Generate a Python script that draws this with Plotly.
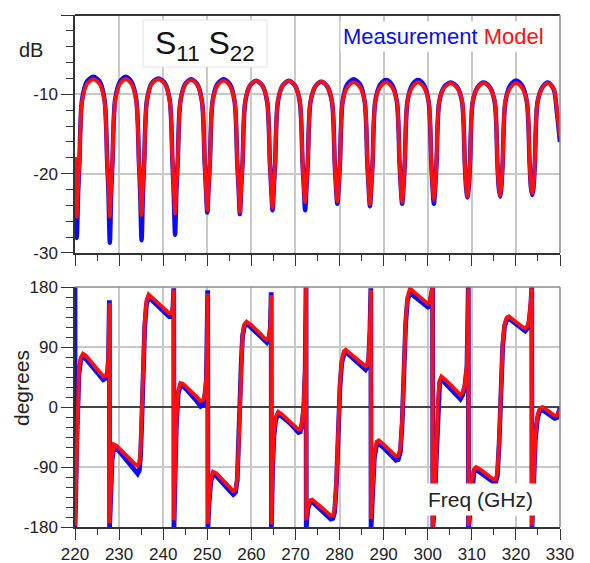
import plotly.graph_objects as go

# ---------------- data ----------------
# Magnitude panel (dB)
mag_freq = [
    220.0, 220.2,
    220.4, 220.7, 221.0, 221.6, 222.7, 224.15, 225.6, 226.7, 227.3, 227.6,
    227.9, 228.2, 228.5, 229.1, 230.2, 231.5, 232.8, 233.9, 234.5, 234.8,
    235.1, 235.4, 235.7, 236.3, 237.4, 238.9, 240.4, 241.5, 242.1, 242.4,
    242.7, 243.0, 243.3, 243.9, 245.0, 246.35, 247.7, 248.8, 249.4, 249.7,
    250.0, 250.3, 250.6, 251.2, 252.3, 253.7, 255.1, 256.2, 256.8, 257.1,
    257.4, 257.7, 258.0, 258.6, 259.7, 261.1, 262.5, 263.6, 264.2, 264.5,
    264.8, 265.1, 265.4, 266.0, 267.1, 268.5, 269.9, 271.0, 271.6, 271.9,
    272.2, 272.5, 272.8, 273.4, 274.5, 275.85, 277.2, 278.3, 278.9, 279.2,
    279.5, 279.8, 280.1, 280.7, 281.8, 283.2, 284.6, 285.7, 286.3, 286.6,
    286.9, 287.2, 287.5, 288.1, 289.2, 290.55, 291.9, 293.0, 293.6, 293.9,
    294.2, 294.5, 294.8, 295.4, 296.5, 297.8, 299.1, 300.2, 300.8, 301.1,
    301.4, 301.7, 302.0, 302.6, 303.7, 305.2, 306.7, 307.8, 308.4, 308.7,
    309.0, 309.3, 309.6, 310.2, 311.3, 312.7, 314.1, 315.2, 315.8, 316.1,
    316.4, 316.7, 317.0, 317.6, 318.7, 320.05, 321.4, 322.5, 323.1, 323.4,
    323.7, 324.0, 324.3, 324.9, 326.0, 327.3, 328.6, 329.3, 330.0,
]

mag_model = [
    -17.9, -21.5,
    -25.4, -21.5, -18.5, -10.9, -8.7, -8.1, -8.7, -10.9, -18.5, -21.5,
    -25.4, -21.5, -18.5, -10.9, -8.7, -8.1, -8.7, -10.9, -18.5, -21.5,
    -25.2, -21.5, -18.5, -10.9, -8.7, -8.1, -8.7, -10.9, -18.5, -21.5,
    -25.0, -21.5, -18.5, -10.9, -8.8, -8.2, -8.8, -10.9, -18.5, -21.5,
    -24.6, -21.5, -18.5, -10.9, -8.9, -8.3, -8.9, -10.9, -18.5, -21.5,
    -24.8, -21.5, -18.5, -10.9, -8.9, -8.3, -8.9, -10.9, -18.5, -21.5,
    -24.3, -21.5, -18.5, -10.9, -8.9, -8.3, -8.9, -10.9, -18.5, -21.5,
    -23.6, -21.5, -18.5, -10.9, -9.0, -8.4, -9.0, -10.9, -18.5, -21.5,
    -23.5, -21.5, -18.5, -10.9, -9.1, -8.5, -9.1, -10.9, -18.5, -21.5,
    -23.9, -21.5, -18.5, -10.9, -9.1, -8.5, -9.1, -10.9, -18.5, -21.5,
    -23.6, -21.5, -18.5, -10.9, -9.1, -8.5, -9.1, -10.9, -18.5, -21.5,
    -23.3, -21.5, -18.5, -10.9, -9.2, -8.6, -9.2, -10.9, -18.5, -21.5,
    -22.9, -21.5, -18.5, -10.9, -9.2, -8.6, -9.2, -10.9, -18.5, -21.5,
    -22.8, -21.5, -18.5, -10.9, -9.2, -8.6, -9.2, -10.9, -18.5, -21.5,
    -22.5, -21.5, -18.5, -10.9, -9.2, -8.6, -9.3, -12.0, -15.3,
]

mag_meas = [
    -18.5, -22.5,
    -28.1, -22.5, -18.5, -10.7, -8.4, -7.8, -8.4, -10.7, -18.5, -22.5,
    -28.7, -22.5, -18.5, -10.7, -8.4, -7.8, -8.4, -10.7, -18.5, -22.5,
    -28.4, -22.5, -18.5, -10.8, -8.6, -8.0, -8.6, -10.8, -18.5, -22.5,
    -27.7, -22.0, -18.5, -10.9, -8.7, -8.1, -8.7, -10.9, -18.5, -21.8,
    -24.9, -21.7, -18.6, -10.9, -8.7, -8.1, -8.7, -10.9, -18.6, -21.7,
    -25.1, -21.7, -18.6, -11.0, -8.9, -8.3, -8.9, -11.0, -18.6, -21.7,
    -24.6, -21.7, -18.6, -11.0, -8.9, -8.3, -8.9, -11.0, -18.6, -21.7,
    -24.6, -21.7, -18.6, -11.0, -9.0, -8.4, -9.0, -11.0, -18.6, -21.7,
    -23.8, -21.7, -18.6, -10.9, -8.7, -8.1, -8.7, -10.9, -18.6, -21.7,
    -24.1, -21.7, -18.6, -10.9, -8.8, -8.2, -8.8, -10.9, -18.6, -21.7,
    -23.8, -21.7, -18.6, -10.9, -8.8, -8.2, -8.8, -10.9, -18.6, -21.7,
    -23.8, -21.7, -18.6, -11.0, -9.1, -8.5, -9.1, -11.0, -18.6, -21.7,
    -23.0, -21.7, -18.6, -11.0, -9.1, -8.5, -9.1, -11.0, -18.6, -21.7,
    -22.9, -21.7, -18.6, -11.0, -8.9, -8.3, -8.9, -11.0, -18.6, -21.7,
    -22.7, -21.7, -18.6, -11.0, -9.1, -8.5, -9.4, -12.3, -16.0,
]

# Phase panel (degrees)
phase_freq = [
    220.0, 220.0, 220.2, 220.4, 220.6, 220.9, 221.3, 221.8, 222.5, 223.5,
    224.5, 225.5, 226.4, 227.0, 227.4, 227.6, 227.8, 227.85, 228.1, 228.4,
    228.8, 229.4, 230.5, 231.5, 232.5, 233.5, 234.2, 234.6, 234.9, 235.2,
    235.5, 235.8, 236.2, 236.7, 237.5, 238.5, 239.5, 240.5, 241.3, 241.9,
    242.2, 242.4, 242.45, 242.7, 243.0, 243.4, 243.9, 244.5, 245.5, 246.5,
    247.5, 248.5, 249.0, 249.4, 249.8, 250.1, 250.15, 250.4, 250.8, 251.3,
    252.0, 253.0, 254.0, 255.0, 255.9, 256.4, 256.8, 257.1, 257.4, 257.7,
    258.0, 258.4, 258.9, 260.0, 261.0, 262.0, 263.0, 263.5, 264.0, 264.3,
    264.5, 264.55, 264.8, 265.1, 265.5, 266.1, 266.8, 268.0, 269.0, 270.0,
    270.7, 271.1, 271.5, 271.9, 272.2, 272.4, 272.45, 272.8, 273.3, 273.8,
    275.0, 276.0, 277.0, 278.0, 278.5, 278.9, 279.3, 279.7, 280.1, 280.5,
    281.0, 281.4, 282.5, 283.5, 284.5, 285.5, 285.9, 286.3, 286.6, 286.9,
    287.1, 287.15, 287.5, 287.9, 288.4, 288.9, 290.0, 291.0, 292.0, 292.8,
    293.3, 293.8, 294.2, 294.6, 295.0, 295.4, 296.0, 297.0, 298.0, 299.0,
    300.0, 300.4, 300.8, 301.1, 301.15, 301.5, 301.9, 302.3, 302.7, 303.1,
    304.0, 305.0, 306.0, 307.0, 307.4, 307.9, 308.4, 308.9, 309.2, 309.25,
    309.6, 310.0, 310.5, 311.0, 312.0, 313.0, 314.0, 315.0, 315.4, 315.8,
    316.2, 316.6, 317.0, 317.4, 317.9, 318.4, 319.5, 320.5, 321.5, 322.1,
    322.6, 323.0, 323.4, 323.6, 323.65, 324.0, 324.4, 324.9, 325.4, 326.0,
    327.0, 328.0, 328.8, 329.3, 329.7, 330.0,
]

phase_model = [
    -178, -178, -120, -40, 20, 58, 74, 80, 77, 69,
    61, 53, 46, 47, 56, 80, 156, -174, -125, -75,
    -56, -58, -65, -72, -79, -85, -88, -84, -60, 0,
    70, 125, 160, 169, 164, 158, 152, 146, 141, 141,
    150, 176, -170, -100, -20, 25, 36, 35, 29, 23,
    16, 9, 10, 18, 45, 170, -175, -140, -108, -97,
    -99, -106, -113, -120, -126, -124, -105, -60, 10, 70,
    110, 124, 128, 123, 117, 110, 103, 101, 106, 120,
    168, -176, -90, -40, -15, -7, -10, -17, -23, -29,
    -34, -33, -22, 5, 60, 180, -170, -150, -140, -139,
    -145, -151, -157, -163, -163, -152, -110, -30, 35, 70,
    84, 86, 80, 74, 68, 62, 61, 64, 76, 120,
    176, -168, -110, -70, -52, -50, -56, -62, -68, -74,
    -73, -62, -20, 60, 130, 165, 178, 172, 166, 160,
    155, 157, 168, 180, -180, -150, -80, 10, 40, 46,
    41, 35, 28, 21, 18, 22, 33, 65, 178, -178,
    -150, -112, -93, -90, -94, -99, -104, -109, -109, -98,
    -50, 30, 95, 124, 134, 136, 130, 125, 120, 118,
    121, 130, 155, 178, -178, -110, -45, -12, -2, 0,
    -4, -9, -13, -13, -9, -4,
]

phase_meas = [
    180, -180, -125, -50, 10, 50, 70, 76, 72, 64,
    56, 48, 41, 43, 52, 75, 160, -180, -130, -80,
    -60, -62, -70, -78, -86, -94, -100, -95, -70, -10,
    60, 118, 154, 166, 160, 154, 148, 141, 136, 137,
    146, 178, -180, -105, -25, 20, 32, 31, 25, 18,
    10, 1, 3, 14, 40, 175, -180, -145, -112, -101,
    -103, -111, -118, -125, -131, -128, -110, -65, 5, 65,
    106, 121, 125, 119, 113, 106, 99, 97, 103, 118,
    172, -180, -95, -45, -20, -10, -13, -20, -26, -32,
    -38, -37, -25, 0, 55, 180, -180, -153, -143, -142,
    -149, -155, -161, -168, -167, -157, -115, -35, 30, 66,
    80, 83, 76, 70, 63, 57, 56, 60, 72, 115,
    178, -180, -115, -75, -57, -55, -61, -67, -74, -80,
    -79, -67, -25, 55, 125, 160, 172, 166, 160, 154,
    150, 152, 165, 180, -180, -155, -85, 5, 36, 42,
    36, 30, 23, 15, 12, 18, 30, 60, 180, -180,
    -155, -117, -97, -94, -99, -104, -109, -113, -113, -103,
    -55, 25, 90, 120, 131, 133, 127, 121, 116, 114,
    118, 128, 155, 180, -180, -115, -50, -17, -6, -4,
    -8, -13, -17, -16, -10, -2,
]

x_ticks = [220, 230, 240, 250, 260, 270, 280, 290, 300, 310, 320, 330]
x_labels = ["220", "230", "240", "250", "260", "270", "280", "290", "300", "310", "320", "330"]
db_ticks = [0, -10, -20, -30]
db_labels = ["0", "-10", "-20", "-30"]
deg_ticks = [180, 90, 0, -90, -180]
deg_labels = ["180", "90", "0", "-90", "-180"]

# ---------------- styling ----------------
BLUE = "#0a0aff"
RED = "#ff1010"
AXIS = "#333333"
GRID = "#c8c8c8"
FONT = "Arial, 'Liberation Sans', sans-serif"
TXT = "#222222"

# page has an 8px body margin, so the figure is 8px smaller than the window
W, H = 582, 555
ML, MR, MT, MB = 67, 30, 7, 36

fig = go.Figure()
fig.add_trace(go.Scatter(x=mag_freq, y=mag_meas, xaxis="x", yaxis="y", mode="lines",
                         line=dict(color=BLUE, width=4.5, shape="spline", smoothing=0.8),
                         name="Measurement", hoverinfo="skip"))
fig.add_trace(go.Scatter(x=mag_freq, y=mag_model, xaxis="x", yaxis="y", mode="lines",
                         line=dict(color=RED, width=3.8, shape="spline", smoothing=0.8),
                         name="Model", hoverinfo="skip"))
fig.add_trace(go.Scatter(x=phase_freq, y=phase_meas, xaxis="x2", yaxis="y2", mode="lines",
                         line=dict(color=BLUE, width=4.8), name="Measurement", hoverinfo="skip"))
fig.add_trace(go.Scatter(x=phase_freq, y=phase_model, xaxis="x2", yaxis="y2", mode="lines",
                         line=dict(color=RED, width=3.8), name="Model", hoverinfo="skip"))

common_x = dict(range=[220, 330], tickvals=x_ticks, ticktext=x_labels, ticks="outside",
                ticklen=11, tickwidth=1.3, tickcolor=AXIS, showline=True, linecolor=AXIS,
                linewidth=1.5, showgrid=True, gridcolor=GRID, gridwidth=1.5, zeroline=False,
                automargin=False,
                minor=dict(dtick=5, tick0=220, ticks="outside", ticklen=6, tickcolor=AXIS,
                           tickwidth=1.3, showgrid=False),
                tickfont=dict(family=FONT, size=17, color=TXT))

fig.update_layout(
    width=W, height=H,
    margin=dict(l=ML, r=MR, t=MT, b=MB, autoexpand=False),
    paper_bgcolor="white", plot_bgcolor="white",
    showlegend=False,
    xaxis=dict(common_x, domain=[0, 1], anchor="y", showticklabels=False),
    yaxis=dict(domain=[0.5352, 1], anchor="x", range=[-30, 0], tickvals=db_ticks,
               ticktext=db_labels, ticks="outside", ticklen=12, tickwidth=1.3, tickcolor=AXIS,
               showline=True, linecolor=AXIS, linewidth=1.5, automargin=False,
               showgrid=True, gridcolor=GRID, gridwidth=1.5,
               zeroline=True, zerolinecolor=AXIS, zerolinewidth=1.5,
               minor=dict(dtick=2, tick0=0, ticks="outside", ticklen=7, tickcolor=AXIS,
                          tickwidth=1.3, showgrid=False),
               tickfont=dict(family=FONT, size=17, color=TXT)),
    xaxis2=dict(common_x, domain=[0, 1], anchor="y2"),
    yaxis2=dict(domain=[0, 0.46875], anchor="x2", range=[-180, 180], tickvals=deg_ticks,
                ticktext=deg_labels, ticks="outside", ticklen=12, tickwidth=1.3, tickcolor=AXIS,
                showline=True, linecolor=AXIS, linewidth=1.5, automargin=False,
                showgrid=True, gridcolor=GRID, gridwidth=1.5,
                zeroline=True, zerolinecolor="#444444", zerolinewidth=1.5,
                minor=dict(dtick=15, tick0=0, ticks="outside", ticklen=7, tickcolor=AXIS,
                           tickwidth=1.3, showgrid=False),
                tickfont=dict(family=FONT, size=17, color=TXT)),
)

# helper: convert window pixel positions of the reference into paper coords
PW = W - ML - MR
PH = H - MT - MB
def px(xp):
    return (xp - 8 - ML) / PW
def py(yp):
    return (H - MB + 8 - yp) / PH

shapes = [
    dict(type="line", xref="x domain", yref="y domain", x0=1, x1=1, y0=0, y1=1,
         line=dict(color="#8a8a8a", width=1.5)),
    dict(type="line", xref="x2 domain", yref="y2 domain", x0=1, x1=1, y0=0, y1=1,
         line=dict(color="#8a8a8a", width=1.5)),
    dict(type="line", xref="x2 domain", yref="y2 domain", x0=0, x1=1, y0=1, y1=1,
         line=dict(color="#8a8a8a", width=1.5)),
    # white label box behind "S11 S22"
    dict(type="rect", xref="paper", yref="paper", x0=px(143), x1=px(267), y0=py(67), y1=py(20),
         fillcolor="white", line=dict(color="#e2e2e2", width=1), layer="above"),
]
fig.update_layout(shapes=shapes)

annos = [
    dict(text="dB", xref="paper", yref="paper", x=px(31), y=py(50), showarrow=False,
         font=dict(family=FONT, size=20, color=TXT), xanchor="center", yanchor="middle"),
    dict(text="degrees", xref="paper", yref="paper", x=px(21), y=py(388), showarrow=False,
         textangle=-90, font=dict(family=FONT, size=21, color=TXT),
         xanchor="center", yanchor="middle"),
    dict(text="S<sub>11</sub> S<sub>22</sub>", xref="paper", yref="paper", x=px(205), y=py(45),
         showarrow=False, font=dict(family=FONT, size=32, color="#111111"),
         xanchor="center", yanchor="middle"),
    dict(text=f"<span style='color:{BLUE}'>Measurement</span> <span style='color:{RED}'>Model</span>",
         xref="paper", yref="paper", x=px(443), y=py(36), showarrow=False,
         font=dict(family=FONT, size=22), bgcolor="white", borderpad=2,
         xanchor="center", yanchor="middle"),
    dict(text="Freq (GHz)", xref="paper", yref="paper", x=px(480), y=py(499), showarrow=False,
         font=dict(family=FONT, size=21, color=TXT), bgcolor="white", borderpad=4,
         xanchor="center", yanchor="middle"),
]
fig.update_layout(annotations=annos)

fig.write_html("out.html")
